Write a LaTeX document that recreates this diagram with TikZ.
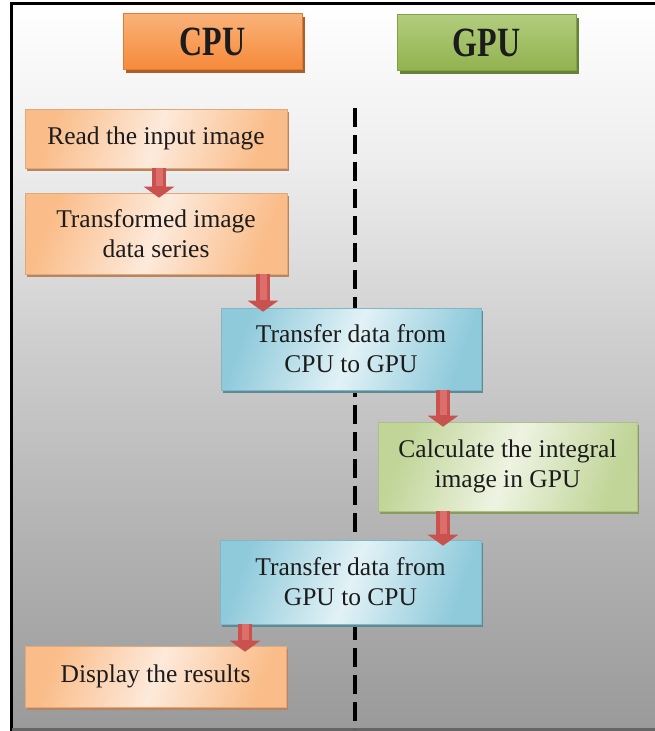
\documentclass[tikz,border=0pt]{standalone}
\usepackage{graphicx}
\usepackage{fontspec}
\setmainfont{Liberation Serif}
\usetikzlibrary{arrows.meta,shadows,calc}
\definecolor{bgA}{HTML}{9A9A9A}
\definecolor{bgB}{HTML}{B2B2B2}
\definecolor{bgC}{HTML}{CFCFCF}
\definecolor{bgD}{HTML}{EDEDED}
\definecolor{cpuT}{HTML}{FAB27A}
\definecolor{cpuB}{HTML}{F68A3A}
\definecolor{cpuS}{HTML}{A8612C}
\definecolor{gpuT}{HTML}{B2CD7E}
\definecolor{gpuB}{HTML}{92B24F}
\definecolor{gpuS}{HTML}{66813A}
\definecolor{oE}{HTML}{FABC88}
\definecolor{oM}{HTML}{FDEADB}
\definecolor{oS}{HTML}{B98460}
\definecolor{bE}{HTML}{8FCADB}
\definecolor{bM}{HTML}{E2F2F6}
\definecolor{bS}{HTML}{5E8A96}
\definecolor{gE}{HTML}{C0D597}
\definecolor{gM}{HTML}{EEF3E2}
\definecolor{gS}{HTML}{8A9C5C}
\definecolor{arrowred}{HTML}{C9514E}
\definecolor{arrowlight}{HTML}{DC6F6C}
\definecolor{txt}{HTML}{1C1C1C}
\pgfdeclareverticalshading{bgshade}{100bp}{color(0bp)=(bgA); color(25bp)=(bgA); color(38bp)=(bgB); color(52bp)=(bgC); color(64bp)=(bgD); color(75bp)=(white); color(100bp)=(white)}
\newcommand\hdrtext[1]{\scalebox{1}[1.3]{\fontsize{32}{32}\selectfont\bfseries #1}}
\begin{document}
\begin{tikzpicture}[x=1pt,y=-1pt,
  hdr/.style={rectangle, inner sep=0pt, minimum width=179pt, minimum height=56pt, text=txt},
  box/.style={rectangle, inner sep=0pt, align=center, text=txt, font=\fontsize{25.5}{30}\selectfont},
  orangebox/.style={box, left color=oE, right color=oE, middle color=oM, shading angle=70, draw=oE!90!black, line width=0.6pt,
    drop shadow={shadow xshift=2pt, shadow yshift=-3pt, fill=oS, opacity=1}},
  bluebox/.style={box, left color=bE, right color=bE, middle color=bM, shading angle=70, draw=bE!90!black, line width=0.6pt,
    drop shadow={shadow xshift=2pt, shadow yshift=-3pt, fill=bS, opacity=1}},
  greenbox/.style={box, left color=gE, right color=gE, middle color=gM, shading angle=70, draw=gE!90!black, line width=0.6pt,
    drop shadow={shadow xshift=2pt, shadow yshift=-3pt, fill=gS, opacity=1}},
  arr/.style={line width=14pt, draw=arrowred, -{Triangle[width=30pt,length=11pt]}},
  arrhi/.style={line width=7pt, draw=arrowlight},
  divider/.style={line width=4pt, dash pattern=on 19pt off 8pt}
]
\useasboundingbox (0,0) rectangle (654,731);
% background frame
\shade[shading=bgshade] (12,4) rectangle (660,729);
\draw[line width=3pt] (11.5,731) -- (11.5,3.5) -- (660,3.5);
\draw[line width=3pt, color=black!60] (11.5,729.5) -- (660,729.5);
% divider
\coordinate (dtop) at (355,108);
\coordinate (dbot) at (355,729);
\draw[divider] (dtop) -- (dbot);
% headers
\node[hdr, top color=cpuT, bottom color=cpuB, draw=cpuB!90!black, line width=0.6pt,
  drop shadow={shadow xshift=3pt, shadow yshift=-3pt, fill=cpuS, opacity=1}] (cpu) at (212.5,41.5) {\hdrtext{CPU}};
\node[hdr, top color=gpuT, bottom color=gpuB, draw=gpuB!90!black, line width=0.6pt,
  drop shadow={shadow xshift=3pt, shadow yshift=-3pt, fill=gpuS, opacity=1}] (gpu) at (486.5,42.5) {\hdrtext{GPU}};
% process boxes
\node[orangebox, minimum width=262pt, minimum height=59pt] (read) at (156,138.5) {Read the input image};
\node[orangebox, minimum width=262pt, minimum height=81pt] (trans) at (156,233.5) {Transformed image\\data series};
\node[bluebox, minimum width=260pt, minimum height=82pt] (c2g) at (351,349) {Transfer data from\\CPU to GPU};
\node[greenbox, minimum width=259pt, minimum height=89pt] (calc) at (507.5,466.5) {Calculate the integral\\image in GPU};
\node[bluebox, minimum width=261pt, minimum height=84pt] (g2c) at (350.5,582) {Transfer data from\\GPU to CPU};
\node[orangebox, minimum width=261pt, minimum height=61pt] (disp) at (155.5,676.5) {Display the results};
% arrow columns
\coordinate (xa) at (159,0);
\coordinate (xb) at (263,0);
\coordinate (xc) at (443,0);
\coordinate (xd) at (245,0);
% arrows
\draw[arr] (read.south -| xa) -- ($(trans.north -| xa)+(0,5)$);
\draw[arrhi] (read.south -| xa) -- ($(trans.north -| xa)+(0,-7)$);
\draw[arr] (trans.south -| xb) -- ($(c2g.north -| xb)+(0,4)$);
\draw[arrhi] (trans.south -| xb) -- ($(c2g.north -| xb)+(0,-8)$);
\draw[arr] (c2g.south -| xc) -- ($(calc.north -| xc)+(0,5)$);
\draw[arrhi] (c2g.south -| xc) -- ($(calc.north -| xc)+(0,-7)$);
\draw[arr] (calc.south -| xc) -- ($(g2c.north -| xc)+(0,6)$);
\draw[arrhi] (calc.south -| xc) -- ($(g2c.north -| xc)+(0,-6)$);
\draw[arr] (g2c.south -| xd) -- ($(disp.north -| xd)+(0,6)$);
\draw[arrhi] (g2c.south -| xd) -- ($(disp.north -| xd)+(0,-6)$);
\end{tikzpicture}
\end{document}
